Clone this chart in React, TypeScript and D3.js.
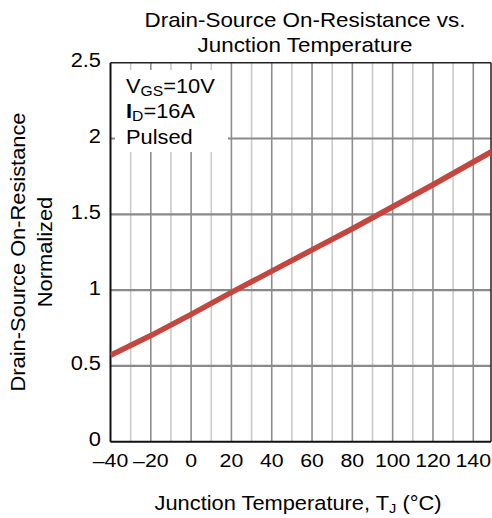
import React from "react";
import * as d3 from "d3";

const temps = [-40, -20, 0, 20, 40, 60, 80, 100, 120, 140, 150];
const rdsNorm = [0.57, 0.70, 0.84, 0.985, 1.125, 1.265, 1.405, 1.55, 1.695, 1.845, 1.92];
const xTicks = [-40, -20, 0, 20, 40, 60, 80, 100, 120, 140];
const xGrid = [-30, -20, -10, 0, 10, 20, 30, 40, 50, 60, 70, 80, 90, 100, 110, 120, 130, 140];
const yTicks = [0, 0.5, 1, 1.5, 2, 2.5];
const yTickLabels = ["0", "0.5", "1", "1.5", "2", "2.5"];
const titleLines = ["Drain-Source On-Resistance vs.", "Junction Temperature"];
const yTitleLines = ["Drain-Source On-Resistance", "Normalized"];

const W = 492;
const H = 518;
const L = 110.5, R = 491, T = 62.7, B = 441.7;
const FONT = "'Liberation Sans', Arial, sans-serif";
const SX = 1.12;

function Txt(props: { x: number; y: number; anchor?: string; size?: number; rot?: number; children: any }) {
  const { x, y, anchor = "start", size = 19.5, rot = 0, children } = props;
  return (
    <text transform={`translate(${x},${y}) rotate(${rot}) scale(${SX},1)`} textAnchor={anchor} fontSize={size} fill="#000">
      {children}
    </text>
  );
}

export default function App() {
  const x = d3.scaleLinear().domain([-40, 148.8]).range([L, R]);
  const y = d3.scaleLinear().domain([0, 2.5]).range([B, T]);
  const line = d3.line<number>().x((_, i) => x(temps[i])).y((d) => y(d));

  return (
    <svg width={W} height={H} style={{ position: "absolute", left: 0, top: 0, background: "#fff" }} fontFamily={FONT}>
      <rect x={0} y={0} width={W} height={H} fill="#fff" />
      <defs>
        <clipPath id="plot">
          <rect x={L} y={T} width={R - L} height={B - T} />
        </clipPath>
      </defs>
      {xGrid.map((t) => (
        <line key={"vx" + t} x1={x(t)} x2={x(t)} y1={T} y2={B}
          stroke={t % 20 === 0 ? "#8e8e8e" : "#cacaca"} strokeWidth={1.6} />
      ))}
      {yTicks.filter((v) => v > 0 && v < 2.5).map((v) => (
        <line key={"hy" + v} x1={L} x2={R} y1={y(v)} y2={y(v)} stroke="#8a8a8a" strokeWidth={2.2} />
      ))}
      <rect x={115} y={70} width={113} height={82} fill="#fff" />
      <line x1={L} x2={R} y1={T} y2={T} stroke="#222" strokeWidth={1.5} />
      <line x1={R} x2={R} y1={T} y2={B} stroke="#222" strokeWidth={1.5} />
      <line x1={L} x2={L} y1={T} y2={B} stroke="#111" strokeWidth={2} />
      <line x1={L} x2={R} y1={B} y2={B} stroke="#111" strokeWidth={2} />
      <g clipPath="url(#plot)">
        <path d={line(rdsNorm) || ""} fill="none" stroke="#c4463f" strokeWidth={5.5} strokeLinejoin="round" />
      </g>
      <Txt x={126} y={93}>
        V<tspan fontSize={14} dy={3}>GS</tspan><tspan dy={-3}>=10V</tspan>
      </Txt>
      <Txt x={126} y={118}>
        <tspan fontWeight="bold">I</tspan><tspan fontSize={14} dy={3}>D</tspan><tspan dy={-3}>=16A</tspan>
      </Txt>
      <Txt x={126} y={144}>Pulsed</Txt>
      {yTicks.map((v, i) => (
        <Txt key={"yt" + v} x={101} y={y(v) + 4.5} anchor="end">{yTickLabels[i]}</Txt>
      ))}
      {xTicks.map((t) => (
        <Txt key={"xt" + t} x={x(t)} y={467} anchor="middle" size={19}>
          {t < 0 ? "\u2013" + Math.abs(t) : String(t)}
        </Txt>
      ))}
      <Txt x={305} y={27} anchor="middle" size={20}>{titleLines[0]}</Txt>
      <Txt x={305} y={52} anchor="middle" size={20}>{titleLines[1]}</Txt>
      <Txt x={298} y={510} anchor="middle">
        Junction Temperature, T<tspan fontSize={13} dy={3}>J</tspan><tspan dy={-3}> (°C)</tspan>
      </Txt>
      <g transform="translate(25,252) rotate(-90)">
        <text transform={`scale(${SX},1)`} textAnchor="middle" fontSize={19.5}>{yTitleLines[0]}</text>
      </g>
      <g transform="translate(52,252) rotate(-90)">
        <text transform={`scale(${SX},1)`} textAnchor="middle" fontSize={19.5}>{yTitleLines[1]}</text>
      </g>
    </svg>
  );
}
